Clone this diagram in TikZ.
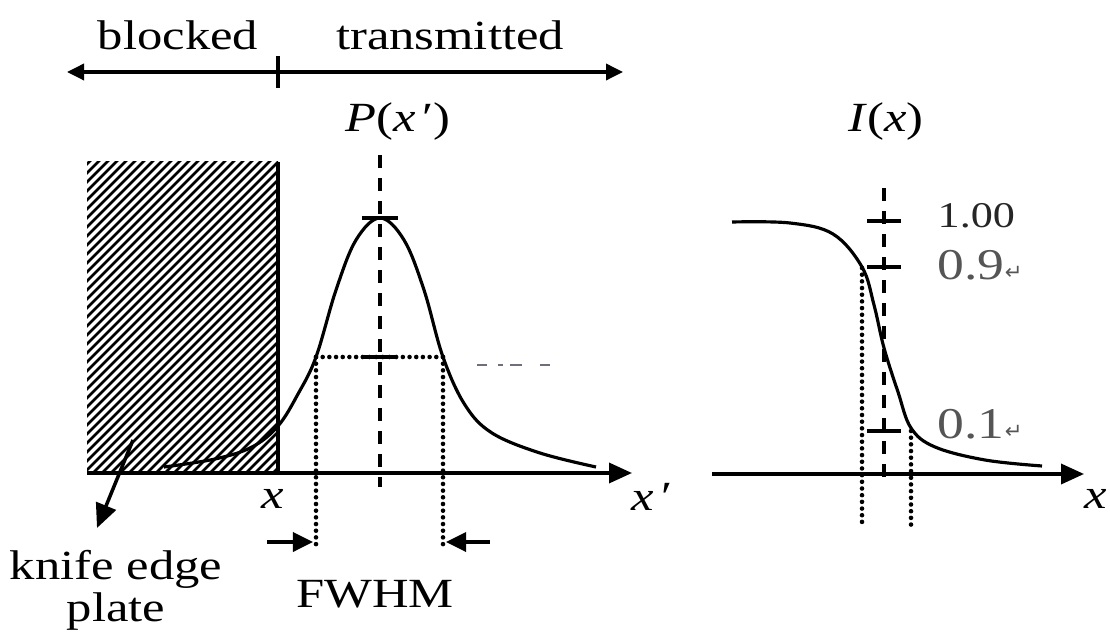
\documentclass[tikz,border=0pt]{standalone}
\usepackage{fontspec}
\setmainfont{Liberation Serif}[FakeStretch=1.22]
\newfontfamily\symfont{DejaVu Sans}
\usetikzlibrary{arrows.meta,positioning}
\definecolor{ValGray}{RGB}{85,85,85}
\definecolor{DashGray}{RGB}{110,110,125}

\begin{document}
\begin{tikzpicture}[x=0.01cm,y=-0.01cm,
  lbl/.style={font=\fontsize{11.8}{10}\selectfont,inner sep=0pt,anchor=base},
  val/.style={font=\fontsize{12.5}{12}\selectfont,inner sep=0pt,anchor=base west,text=ValGray},
  curve/.style={line width=0.9pt},
  axis/.style={line width=1pt,-{Triangle[length=0.23cm,width=0.2cm]}},
  midline/.style={line width=1.1pt,dash pattern=on 0.13cm off 0.1cm},
  dotline/.style={line width=1.3pt,line cap=round,dash pattern=on 0pt off 1.9pt},
  tick/.style={line width=1.2pt},
  pointer/.style={line width=1pt,-{Triangle[length=0.24cm,width=0.21cm]}},
  fwhmarrow/.style={line width=1pt,-{Triangle[length=0.2cm,width=0.19cm]}}]
  \useasboundingbox (0,0) rectangle (1110,637);

  % top range arrow
  \coordinate (rl) at (67,72);
  \coordinate (rr) at (623,72);
  \coordinate (edgetop) at (278,72);
  \draw[line width=1pt,{Triangle[length=0.17cm,width=0.16cm]}-{Triangle[length=0.17cm,width=0.16cm]}] (rl) -- (rr);
  \draw[tick] ([yshift=0.16cm]edgetop) -- ([yshift=-0.16cm]edgetop);
  \node[lbl] (blocked) at (178,50) {blocked};
  \node[lbl] (transm) at (450,50) {transmitted};

  % knife edge plate
  \begin{scope}
    \clip (87,162) rectangle (278,473);
    \foreach \s in {-240,-231,...,280}
      \draw[line width=0.75pt] (\s,473) -- ++(330,-330);
  \end{scope}
  \coordinate (knifetop) at (278,162);
  \coordinate (knifebot) at (278,473);
  \draw[line width=1.2pt] (knifetop) -- (knifebot);

  % left axis and beam profile
  \coordinate (lorigin) at (87,473);
  \coordinate (lend) at (632,473);
  \draw[axis] (lorigin) -- (lend);
  \draw[curve] plot[smooth,tension=0.6] coordinates {(164,467) (215,459) (252,447) (278,426)
    (298,394) (316,357) (336,290) (356,240) (380,218) (404,240) (424,290) (443,357)
    (465,405) (492,433) (540,453) (596,467)};
  \coordinate (ptop) at (380,155);
  \coordinate (pbot) at (380,487);
  \draw[midline] (ptop) -- (pbot);
  \coordinate (peak) at (380,218);
  \coordinate (half) at (380,357);
  \draw[tick] ([xshift=-0.18cm]peak) -- ([xshift=0.18cm]peak);
  \draw[tick] ([xshift=-0.16cm]half) -- ([xshift=0.16cm]half);
  \coordinate (hl) at (316,357);
  \coordinate (hr) at (443,357);
  \draw[dotline] (hl) -- (hr);
  \coordinate (hlb) at (316,548);
  \coordinate (hrb) at (443,548);
  \draw[dotline] (hl) -- (hlb);
  \draw[dotline] (hr) -- (hrb);
  \draw[line width=0.6pt,DashGray,dash pattern=on 0.1cm off 0.11cm on 0.05cm off 0.07cm on 0.12cm off 0.18cm on 0.1cm]
    (477,365) -- (550,365);
  \node[lbl] (plabel) at (398,132) {\textit{P}(\textit{x}\,′)};
  \node[lbl] (xedge) at (273,508) {\textit{x}};
  \node[lbl] (xprime) at (652,510) {\textit{x}\,′};

  % FWHM arrows
  \coordinate (fl) at (267,542);
  \coordinate (fr) at (490,542);
  \draw[fwhmarrow] (fl) -- (313,542);
  \draw[fwhmarrow] (fr) -- (446,542);
  \node[lbl] (fwhm) at (375,607) {FWHM};

  % knife edge label
  \coordinate (kstart) at (133,440);
  \coordinate (ktip) at (97,528);
  \draw[pointer] (kstart) -- (ktip);
  \node[lbl,font=\fontsize{11.8}{9.5}\selectfont,align=center,anchor=base] (knife) at (116,621) {knife edge\\plate};

  % right axis and edge response
  \coordinate (rorigin) at (712,474);
  \coordinate (rend) at (1084,474);
  \draw[axis] (rorigin) -- (rend);
  \draw[curve] plot[smooth,tension=0.6] coordinates {(732,222) (790,223) (833,234) (862,267)
    (874,305) (884,348) (898,392) (911,428) (935,447) (985,460) (1042,466)};
  \coordinate (itop) at (884,188);
  \coordinate (ibot) at (884,487);
  \draw[midline] (itop) -- (ibot);
  \foreach \ty/\tn in {221/one,267/ninety,431/ten}
    \coordinate (t\tn) at (884,\ty);
  \draw[tick] ([xshift=-0.17cm]tone) -- ([xshift=0.17cm]tone);
  \draw[tick] ([xshift=-0.17cm]tninety) -- ([xshift=0.17cm]tninety);
  \draw[tick] ([xshift=-0.17cm]tten) -- ([xshift=0.17cm]tten);
  \coordinate (d9) at (862,268);
  \coordinate (d9b) at (862,525);
  \coordinate (d1) at (911,431);
  \coordinate (d1b) at (911,525);
  \draw[dotline] (d9) -- (d9b);
  \draw[dotline] (d1) -- (d1b);
  \node[lbl] (ilabel) at (886,132) {\textit{I}(\textit{x})};
  \node[lbl] (xright) at (1096,508) {\textit{x}};
  \node[val,font=\fontsize{10.3}{12}\selectfont,text=black!85] (vone) at (937,228) {1.00};
  \node[val] (vninety) at (937,279) {0.9{\symfont\fontsize{6}{6}\selectfont ↵}};
  \node[val] (vten) at (937,438) {0.1{\symfont\fontsize{6}{6}\selectfont ↵}};
\end{tikzpicture}
\end{document}
